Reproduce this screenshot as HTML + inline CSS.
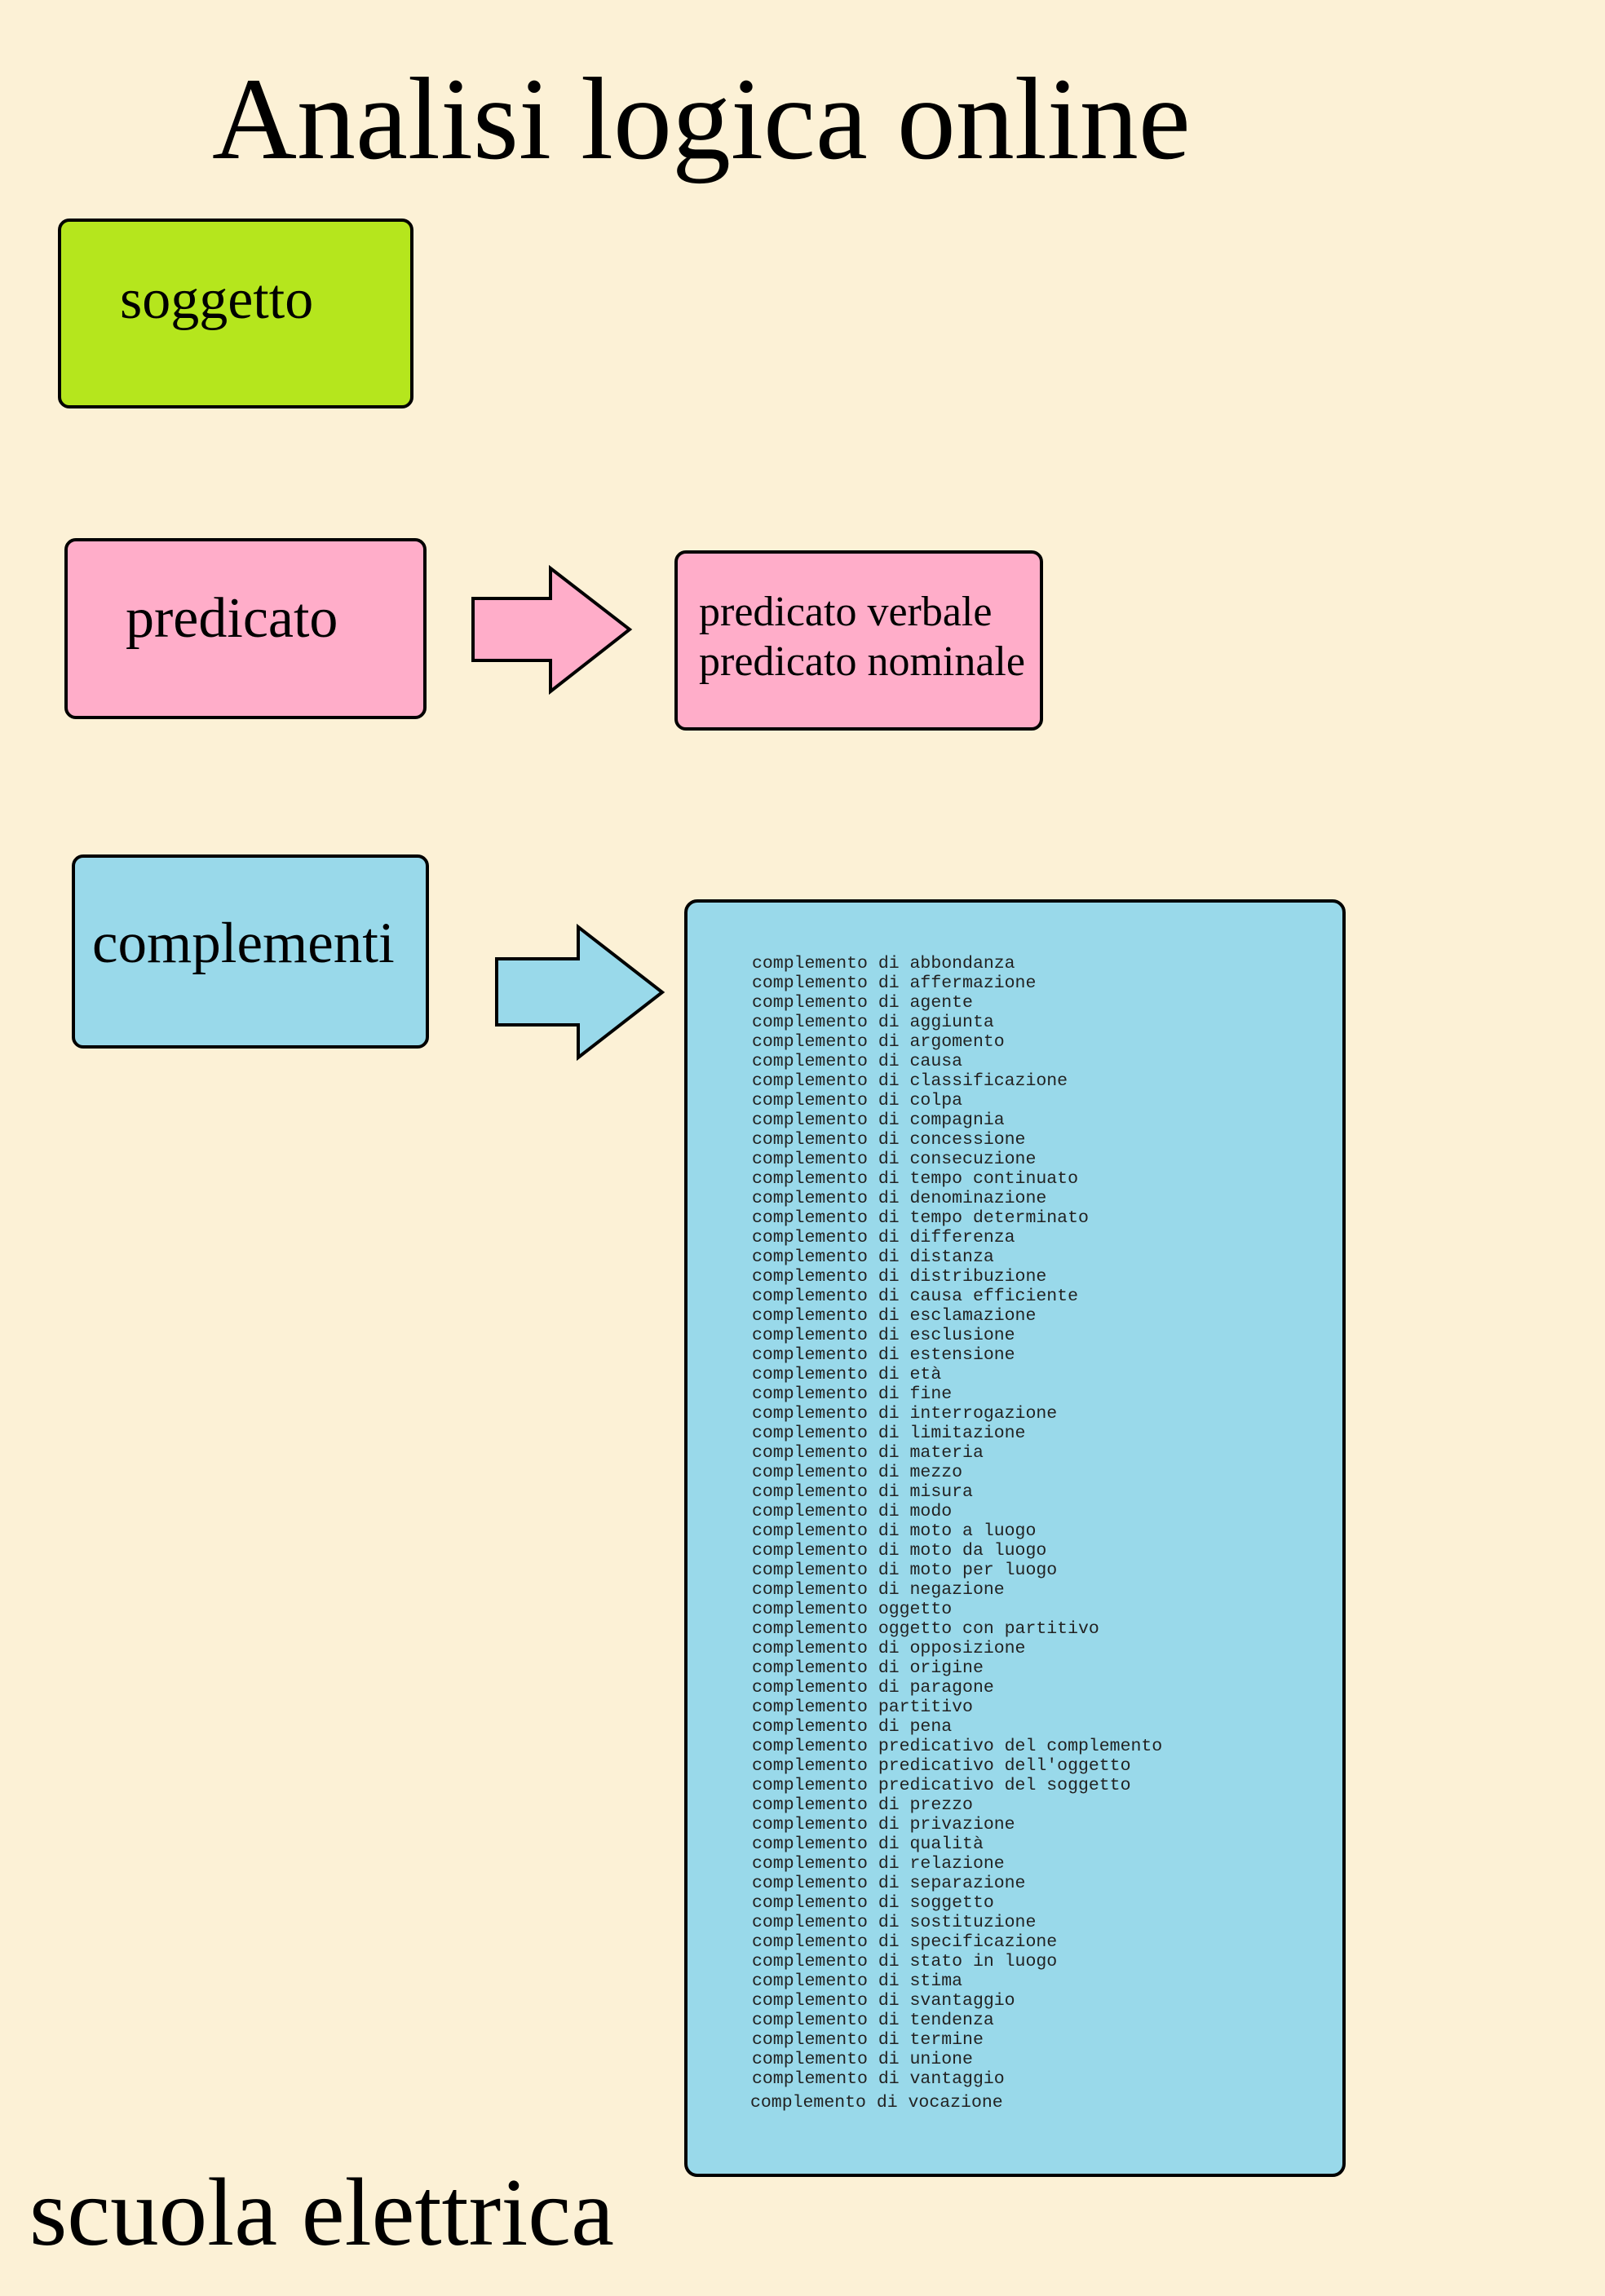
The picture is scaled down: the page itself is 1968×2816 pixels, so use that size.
<!DOCTYPE html>
<html><head><meta charset="utf-8"><style>
html,body{margin:0;padding:0;background:#fcf1d6;}
svg{display:block}
</style></head><body>
<svg width="1968" height="2816" viewBox="0 0 1968 2816" xmlns="http://www.w3.org/2000/svg">
<rect width="1968" height="2816" fill="#fcf1d6"/>
<text x="260" y="194" font-family="Liberation Serif, serif" font-size="144" fill="#000">Analisi logica online</text>

<rect x="73" y="270" width="432" height="229" rx="12" fill="#b5e61d" stroke="#000" stroke-width="4"/>
<text x="147" y="390" font-family="Liberation Serif, serif" font-size="70">soggetto</text>

<rect x="81" y="662" width="440" height="218" rx="12" fill="#ffadc9" stroke="#000" stroke-width="4"/>
<text x="154" y="781" font-family="Liberation Serif, serif" font-size="70">predicato</text>

<polygon points="580,734 675,734 675,697 772,772 675,848 675,810 580,810" fill="#ffadc9" stroke="#000" stroke-width="4"/>

<rect x="829" y="677" width="448" height="217" rx="12" fill="#ffadc9" stroke="#000" stroke-width="4"/>
<text font-family="Liberation Serif, serif" font-size="52"><tspan x="857" y="767">predicato verbale</tspan><tspan x="857" y="828">predicato nominale</tspan></text>

<rect x="90" y="1050" width="434" height="234" rx="12" fill="#99d9ea" stroke="#000" stroke-width="4"/>
<text x="113" y="1180" font-family="Liberation Serif, serif" font-size="71">complementi</text>

<polygon points="609,1176 709,1176 709,1137 812,1217 709,1297 709,1257 609,1257" fill="#99d9ea" stroke="#000" stroke-width="4"/>

<rect x="841" y="1105" width="807" height="1563" rx="14" fill="#99d9ea" stroke="#000" stroke-width="4"/>
<g font-family="Liberation Mono, monospace" font-size="21.5" fill="#222">
<text x="922" y="1187">complemento di abbondanza</text>
<text x="922" y="1211">complemento di affermazione</text>
<text x="922" y="1235">complemento di agente</text>
<text x="922" y="1259">complemento di aggiunta</text>
<text x="922" y="1283">complemento di argomento</text>
<text x="922" y="1307">complemento di causa</text>
<text x="922" y="1331">complemento di classificazione</text>
<text x="922" y="1355">complemento di colpa</text>
<text x="922" y="1379">complemento di compagnia</text>
<text x="922" y="1403">complemento di concessione</text>
<text x="922" y="1427">complemento di consecuzione</text>
<text x="922" y="1451">complemento di tempo continuato</text>
<text x="922" y="1475">complemento di denominazione</text>
<text x="922" y="1499">complemento di tempo determinato</text>
<text x="922" y="1523">complemento di differenza</text>
<text x="922" y="1547">complemento di distanza</text>
<text x="922" y="1571">complemento di distribuzione</text>
<text x="922" y="1595">complemento di causa efficiente</text>
<text x="922" y="1619">complemento di esclamazione</text>
<text x="922" y="1643">complemento di esclusione</text>
<text x="922" y="1667">complemento di estensione</text>
<text x="922" y="1691">complemento di età</text>
<text x="922" y="1715">complemento di fine</text>
<text x="922" y="1739">complemento di interrogazione</text>
<text x="922" y="1763">complemento di limitazione</text>
<text x="922" y="1787">complemento di materia</text>
<text x="922" y="1811">complemento di mezzo</text>
<text x="922" y="1835">complemento di misura</text>
<text x="922" y="1859">complemento di modo</text>
<text x="922" y="1883">complemento di moto a luogo</text>
<text x="922" y="1907">complemento di moto da luogo</text>
<text x="922" y="1931">complemento di moto per luogo</text>
<text x="922" y="1955">complemento di negazione</text>
<text x="922" y="1979">complemento oggetto</text>
<text x="922" y="2003">complemento oggetto con partitivo</text>
<text x="922" y="2027">complemento di opposizione</text>
<text x="922" y="2051">complemento di origine</text>
<text x="922" y="2075">complemento di paragone</text>
<text x="922" y="2099">complemento partitivo</text>
<text x="922" y="2123">complemento di pena</text>
<text x="922" y="2147">complemento predicativo del complemento</text>
<text x="922" y="2171">complemento predicativo dell'oggetto</text>
<text x="922" y="2195">complemento predicativo del soggetto</text>
<text x="922" y="2219">complemento di prezzo</text>
<text x="922" y="2243">complemento di privazione</text>
<text x="922" y="2267">complemento di qualità</text>
<text x="922" y="2291">complemento di relazione</text>
<text x="922" y="2315">complemento di separazione</text>
<text x="922" y="2339">complemento di soggetto</text>
<text x="922" y="2363">complemento di sostituzione</text>
<text x="922" y="2387">complemento di specificazione</text>
<text x="922" y="2411">complemento di stato in luogo</text>
<text x="922" y="2435">complemento di stima</text>
<text x="922" y="2459">complemento di svantaggio</text>
<text x="922" y="2483">complemento di tendenza</text>
<text x="922" y="2507">complemento di termine</text>
<text x="922" y="2531">complemento di unione</text>
<text x="922" y="2555">complemento di vantaggio</text>
<text x="920" y="2584">complemento di vocazione</text>
</g>

<text x="36" y="2753" font-family="Liberation Serif, serif" font-size="119">scuola elettrica</text>
</svg>
</body></html>
